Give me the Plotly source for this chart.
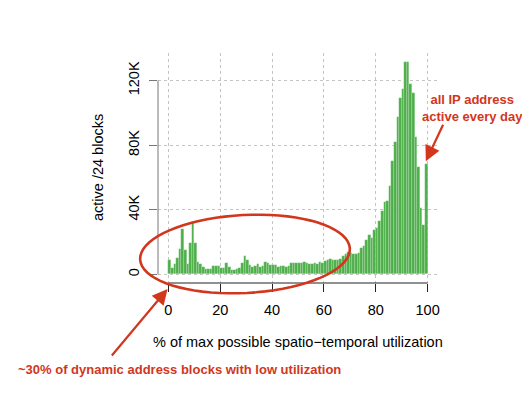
import math
import plotly.graph_objects as go

# ---- data -------------------------------------------------------------
bin_start = list(range(100))  # % of max possible utilization, 1%-wide bins
active_k = [
    9.1, 3.9, 6.6, 10.3, 15.9, 28.3, 14.9, 6.6, 19.4, 31.8,
    19.4, 8.0, 6.6, 4.5, 3.1, 3.1, 3.3, 5.4, 5.4, 5.2,
    4.3, 4.3, 7.0, 4.5, 2.9, 2.9, 3.7, 4.1, 7.0, 11.2,
    8.7, 6.0, 4.5, 5.3, 6.2, 4.9, 5.5, 8.0, 7.0, 6.0,
    6.0, 5.8, 4.9, 5.1, 5.1, 4.5, 5.3, 7.4, 7.0, 6.8,
    7.2, 6.8, 7.6, 6.8, 6.6, 6.4, 6.9, 6.6, 7.8, 7.4,
    8.3, 8.7, 9.5, 9.1, 8.7, 9.0, 9.8, 11.3, 12.6, 13.8,
    13.5, 12.8, 12.9, 13.1, 16.3, 17.8, 21.5, 24.2, 22.7, 27.3,
    29.0, 32.9, 39.0, 44.9, 45.2, 54.6, 70.3, 81.8, 97.2, 109.0,
    114.5, 131.7, 131.3, 117.6, 112.4, 85.2, 66.2, 41.1, 30.4, 68.5,
]
active = [v * 1000 for v in active_k]

x_ticks = [0, 20, 40, 60, 80, 100]
y_ticks = [0, 40000, 80000, 120000]
y_tick_labels = ["0", "40K", "80K", "120K"]

# ---- layout constants ------------------------------------------------
OFF = 8  # default page body margin
W, H = 530 - OFF, 398 - OFF
ML, MR, MT, MB = 158 - OFF, 92, 53 - OFF, 115
PW, PH = W - ML - MR, H - MT - MB
FONT = "Liberation Sans, Arial, Helvetica, sans-serif"
RED = "#d2361c"
GREEN = "#4daf4a"


def px2paper(px, py):
    """page pixel -> paper coords"""
    return (px - OFF - ML) / PW, (H + OFF - MB - py) / PH


fig = go.Figure()
fig.add_trace(go.Bar(
    x=bin_start, y=active, offset=0, width=1,
    marker=dict(color=GREEN, line=dict(color="rgba(255,255,255,0.35)", width=0.5)),
    hoverinfo="x+y",
))

shapes = []
# detached R-style axis lines
shapes.append(dict(type="line", xref="x", yref="paper", x0=0, x1=100, y0=0, y1=0,
                   line=dict(color="#222222", width=1)))
shapes.append(dict(type="line", xref="paper", yref="y", x0=0, x1=0, y0=0, y1=120000,
                   line=dict(color="#777777", width=1)))

# hand-drawn style ellipse around the low-utilization region
cx, cy, a, b, rot = 245, 254, 105, 39, math.radians(3)
pts = []
for i in range(73):
    t = 2 * math.pi * i / 72
    ex = a * math.cos(t)
    ey = b * math.sin(t)
    px = cx + ex * math.cos(rot) - ey * math.sin(rot)
    py = cy - (ex * math.sin(rot) + ey * math.cos(rot))
    u, v = px2paper(px, py)
    pts.append(f"{u:.4f},{v:.4f}")
shapes.append(dict(type="path", xref="paper", yref="paper",
                   path="M" + " L".join(pts) + " Z",
                   line=dict(color=RED, width=2.6)))

common = dict(xanchor="center", yanchor="middle")
annotations = [
    dict(text="active /24 blocks", xref="paper", yref="paper",
         x=px2paper(98, 0)[0], y=0.5, textangle=-90, showarrow=False,
         font=dict(family=FONT, size=14.5, color="#000"), **common),
    dict(text="% of max possible spatio\u2212temporal utilization", xref="paper", yref="paper",
         x=0.5, y=px2paper(0, 342)[1], showarrow=False,
         font=dict(family=FONT, size=14.5, color="#000"), **common),
    dict(text="all IP address<br>active every day", xref="paper", yref="paper",
         x=px2paper(472, 0)[0], y=px2paper(0, 108)[1], showarrow=False,
         font=dict(family=FONT, size=13, color=RED, weight="bold"), **common),
    dict(text="~30% of dynamic address blocks with low utilization", xref="paper", yref="paper",
         x=px2paper(179, 0)[0], y=px2paper(0, 369)[1], showarrow=False,
         font=dict(family=FONT, size=13, color=RED, weight="bold"), **common),
    # arrow to the 100% spike
    dict(text="", xref="x", yref="y", x=99.3, y=active[99] + 1500,
         ax=18, ay=-38, showarrow=True, arrowhead=2, arrowsize=1.4,
         arrowwidth=2.2, arrowcolor=RED),
    # arrow to the low-utilization range
    dict(text="", xref="x", yref="paper", x=-0.3, y=px2paper(0, 289)[1],
         ax=-57, ay=68, showarrow=True, arrowhead=2, arrowsize=1.4,
         arrowwidth=2.2, arrowcolor=RED),
]

fig.update_layout(
    width=W, height=H,
    margin=dict(l=ML, r=MR, t=MT, b=MB, pad=0, autoexpand=False),
    paper_bgcolor="white", plot_bgcolor="white",
    showlegend=False, bargap=0,
    font=dict(family=FONT, size=14.5, color="#000"),
    shapes=shapes, annotations=annotations,
    xaxis=dict(range=[-4, 104], tickvals=x_ticks, ticks="outside", ticklen=8,
               tickcolor="#222222", showline=False, zeroline=False, automargin=False,
               showgrid=True, gridcolor="#c4c4c4", griddash="dot", gridwidth=1,
               ticklabelstandoff=6, tickfont=dict(size=14.5)),
    yaxis=dict(range=[-5270, 137000], tickvals=y_ticks, ticktext=y_tick_labels,
               ticks="outside", ticklen=8, tickcolor="#777777", tickangle=-90,
               showline=False, zeroline=False, automargin=False,
               showgrid=True, gridcolor="#c4c4c4", griddash="dot", gridwidth=1,
               ticklabelstandoff=4, tickfont=dict(size=14.5)),
)

fig.write_html("out.html")
